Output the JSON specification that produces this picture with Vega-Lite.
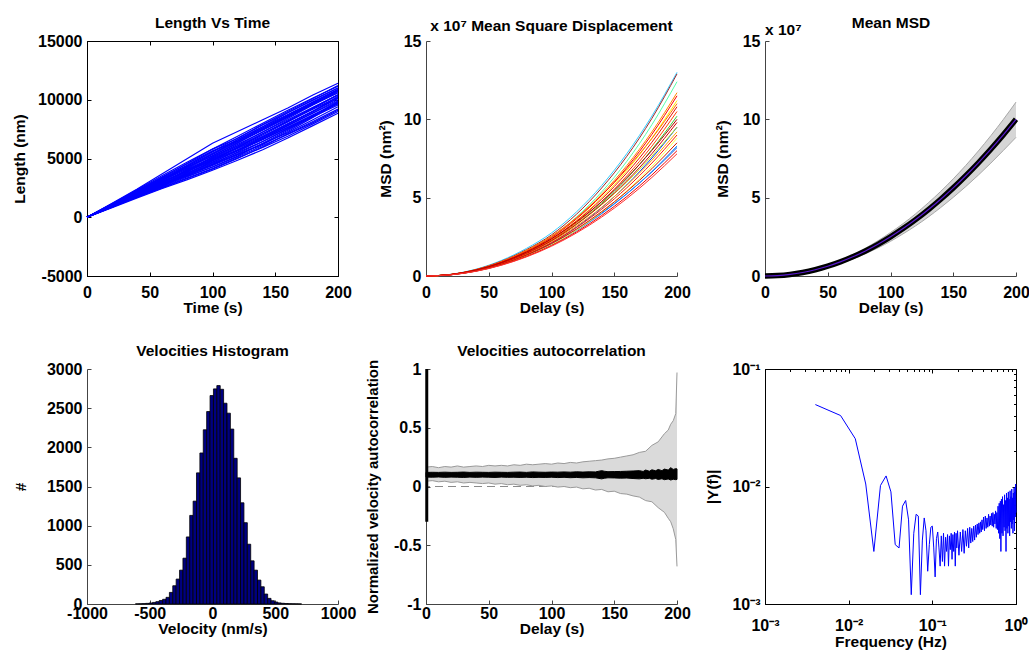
{
"$schema": "https://vega.github.io/schema/vega-lite/v6.json",
"padding": {"left": 12, "top": 15, "right": 0, "bottom": 0},
"config": {
  "font": "Liberation Sans",
  "view": {"stroke": null},
  "axis": {"grid": false, "tickSize": -4, "labelFlush": false, "labelOverlap": false, "labelBound": false,
    "domainColor": "#444", "tickColor": "#444", "domainWidth": 1, "tickWidth": 1,
    "labelFont": "Liberation Sans", "labelFontSize": 16, "labelFontWeight": "bold", "labelColor": "#000",
    "titleFont": "Liberation Sans", "titleFontSize": 15.5, "titleFontWeight": "bold", "titleColor": "#000",
    "labelPadding": 9, "titlePadding": 10},
  "title": {"font": "Liberation Sans", "fontSize": 15.5, "fontWeight": "bold", "color": "#000", "offset": 2},
  "text": {"font": "Liberation Sans"}
},
"columns": 3,
"bounds": "flush",
"spacing": {"row": 93, "column": 88},
"concat": [
{
  "width": 251, "height": 235,
  "title": {"text": "Length Vs Time", "offset": 1.5},
  "view": {"stroke": "black", "strokeWidth": 1},
  "data": {"values": [
{"id":1,"t":0,"L":0},{"id":1,"t":20,"L":1200},{"id":1,"t":40,"L":2400},{"id":1,"t":60,"L":3700},{"id":1,"t":80,"L":5000},{"id":1,"t":100,"L":6300},{"id":1,"t":120,"L":7300},{"id":1,"t":140,"L":8300},{"id":1,"t":160,"L":9300},{"id":1,"t":180,"L":10400},{"id":1,"t":200,"L":11400},
{"id":2,"t":0,"L":0},{"id":2,"t":20,"L":1100},{"id":2,"t":40,"L":2200},{"id":2,"t":60,"L":3400},{"id":2,"t":80,"L":4600},{"id":2,"t":100,"L":5800},{"id":2,"t":120,"L":6700},{"id":2,"t":140,"L":7900},{"id":2,"t":160,"L":9000},{"id":2,"t":180,"L":10100},{"id":2,"t":200,"L":11200},
{"id":3,"t":0,"L":0},{"id":3,"t":20,"L":1050},{"id":3,"t":40,"L":2250},{"id":3,"t":60,"L":3300},{"id":3,"t":80,"L":4200},{"id":3,"t":100,"L":5400},{"id":3,"t":120,"L":6600},{"id":3,"t":140,"L":7700},{"id":3,"t":160,"L":8900},{"id":3,"t":180,"L":10000},{"id":3,"t":200,"L":11000},
{"id":4,"t":0,"L":0},{"id":4,"t":20,"L":950},{"id":4,"t":40,"L":2000},{"id":4,"t":60,"L":3150},{"id":4,"t":80,"L":4300},{"id":4,"t":100,"L":5200},{"id":4,"t":120,"L":6300},{"id":4,"t":140,"L":7500},{"id":4,"t":160,"L":8600},{"id":4,"t":180,"L":9700},{"id":4,"t":200,"L":10800},
{"id":5,"t":0,"L":0},{"id":5,"t":20,"L":1080},{"id":5,"t":40,"L":2100},{"id":5,"t":60,"L":3000},{"id":5,"t":80,"L":3900},{"id":5,"t":100,"L":5100},{"id":5,"t":120,"L":6200},{"id":5,"t":140,"L":7250},{"id":5,"t":160,"L":8400},{"id":5,"t":180,"L":9550},{"id":5,"t":200,"L":10600},
{"id":6,"t":0,"L":0},{"id":6,"t":20,"L":900},{"id":6,"t":40,"L":1800},{"id":6,"t":60,"L":2900},{"id":6,"t":80,"L":4000},{"id":6,"t":100,"L":5150},{"id":6,"t":120,"L":6100},{"id":6,"t":140,"L":7250},{"id":6,"t":160,"L":8300},{"id":6,"t":180,"L":9350},{"id":6,"t":200,"L":10400},
{"id":7,"t":0,"L":0},{"id":7,"t":20,"L":1020},{"id":7,"t":40,"L":1950},{"id":7,"t":60,"L":2850},{"id":7,"t":80,"L":3700},{"id":7,"t":100,"L":4800},{"id":7,"t":120,"L":5950},{"id":7,"t":140,"L":7100},{"id":7,"t":160,"L":8150},{"id":7,"t":180,"L":9200},{"id":7,"t":200,"L":10200},
{"id":8,"t":0,"L":0},{"id":8,"t":20,"L":940},{"id":8,"t":40,"L":1850},{"id":8,"t":60,"L":2700},{"id":8,"t":80,"L":3600},{"id":8,"t":100,"L":4500},{"id":8,"t":120,"L":5550},{"id":8,"t":140,"L":6700},{"id":8,"t":160,"L":7800},{"id":8,"t":180,"L":8900},{"id":8,"t":200,"L":10000},
{"id":9,"t":0,"L":0},{"id":9,"t":20,"L":1060},{"id":9,"t":40,"L":2100},{"id":9,"t":60,"L":3050},{"id":9,"t":80,"L":3950},{"id":9,"t":100,"L":4850},{"id":9,"t":120,"L":5750},{"id":9,"t":140,"L":6700},{"id":9,"t":160,"L":7800},{"id":9,"t":180,"L":8850},{"id":9,"t":200,"L":9900},
{"id":10,"t":0,"L":0},{"id":10,"t":20,"L":880},{"id":10,"t":40,"L":1750},{"id":10,"t":60,"L":2600},{"id":10,"t":80,"L":3450},{"id":10,"t":100,"L":4300},{"id":10,"t":120,"L":5200},{"id":10,"t":140,"L":6300},{"id":10,"t":160,"L":7400},{"id":10,"t":180,"L":8600},{"id":10,"t":200,"L":9800},
{"id":11,"t":0,"L":0},{"id":11,"t":20,"L":920},{"id":11,"t":40,"L":1800},{"id":11,"t":60,"L":2650},{"id":11,"t":80,"L":3550},{"id":11,"t":100,"L":4400},{"id":11,"t":120,"L":5300},{"id":11,"t":140,"L":6200},{"id":11,"t":160,"L":7300},{"id":11,"t":180,"L":8500},{"id":11,"t":200,"L":9700},
{"id":12,"t":0,"L":0},{"id":12,"t":20,"L":1030},{"id":12,"t":40,"L":1950},{"id":12,"t":60,"L":2800},{"id":12,"t":80,"L":3650},{"id":12,"t":100,"L":4500},{"id":12,"t":120,"L":5350},{"id":12,"t":140,"L":6250},{"id":12,"t":160,"L":7200},{"id":12,"t":180,"L":8300},{"id":12,"t":200,"L":9400},
{"id":13,"t":0,"L":0},{"id":13,"t":20,"L":850},{"id":13,"t":40,"L":1700},{"id":13,"t":60,"L":2500},{"id":13,"t":80,"L":3300},{"id":13,"t":100,"L":4100},{"id":13,"t":120,"L":5000},{"id":13,"t":140,"L":6000},{"id":13,"t":160,"L":7100},{"id":13,"t":180,"L":8150},{"id":13,"t":200,"L":9200},
{"id":14,"t":0,"L":0},{"id":14,"t":20,"L":900},{"id":14,"t":40,"L":1750},{"id":14,"t":60,"L":2550},{"id":14,"t":80,"L":3350},{"id":14,"t":100,"L":4150},{"id":14,"t":120,"L":5050},{"id":14,"t":140,"L":5950},{"id":14,"t":160,"L":6900},{"id":14,"t":180,"L":7950},{"id":14,"t":200,"L":9000},
{"id":15,"t":0,"L":0},{"id":15,"t":20,"L":820},{"id":15,"t":40,"L":1650},{"id":15,"t":60,"L":2450},{"id":15,"t":80,"L":3200},{"id":15,"t":100,"L":4000},{"id":15,"t":120,"L":4850},{"id":15,"t":140,"L":5750},{"id":15,"t":160,"L":6750},{"id":15,"t":180,"L":7800},{"id":15,"t":200,"L":8850},
{"id":16,"t":0,"L":0},{"id":16,"t":20,"L":1120},{"id":16,"t":40,"L":2250},{"id":16,"t":60,"L":3350},{"id":16,"t":80,"L":4450},{"id":16,"t":100,"L":5600},{"id":16,"t":120,"L":6750},{"id":16,"t":140,"L":7850},{"id":16,"t":160,"L":8900},{"id":16,"t":180,"L":9950},{"id":16,"t":200,"L":11000},
{"id":17,"t":0,"L":0},{"id":17,"t":20,"L":1000},{"id":17,"t":40,"L":2050},{"id":17,"t":60,"L":3100},{"id":17,"t":80,"L":4150},{"id":17,"t":100,"L":5250},{"id":17,"t":120,"L":6350},{"id":17,"t":140,"L":7400},{"id":17,"t":160,"L":8500},{"id":17,"t":180,"L":9600},{"id":17,"t":200,"L":10700},
{"id":18,"t":0,"L":0},{"id":18,"t":20,"L":980},{"id":18,"t":40,"L":1900},{"id":18,"t":60,"L":2800},{"id":18,"t":80,"L":3800},{"id":18,"t":100,"L":4700},{"id":18,"t":120,"L":5650},{"id":18,"t":140,"L":6600},{"id":18,"t":160,"L":7650},{"id":18,"t":180,"L":8700},{"id":18,"t":200,"L":9650},
{"id":19,"t":0,"L":0},{"id":19,"t":20,"L":1150},{"id":19,"t":40,"L":2300},{"id":19,"t":60,"L":3450},{"id":19,"t":80,"L":4550},{"id":19,"t":100,"L":5650},{"id":19,"t":120,"L":6500},{"id":19,"t":140,"L":7600},{"id":19,"t":160,"L":8700},{"id":19,"t":180,"L":9800},{"id":19,"t":200,"L":10900},
{"id":20,"t":0,"L":0},{"id":20,"t":20,"L":860},{"id":20,"t":40,"L":1800},{"id":20,"t":60,"L":2750},{"id":20,"t":80,"L":3750},{"id":20,"t":100,"L":4650},{"id":20,"t":120,"L":5700},{"id":20,"t":140,"L":6850},{"id":20,"t":160,"L":7950},{"id":20,"t":180,"L":9000},{"id":20,"t":200,"L":10100},
{"id":21,"t":0,"L":0},{"id":21,"t":20,"L":1000},{"id":21,"t":40,"L":1950},{"id":21,"t":60,"L":2950},{"id":21,"t":80,"L":4050},{"id":21,"t":100,"L":5000},{"id":21,"t":120,"L":5900},{"id":21,"t":140,"L":6900},{"id":21,"t":160,"L":7950},{"id":21,"t":180,"L":9050},{"id":21,"t":200,"L":10150},
{"id":22,"t":0,"L":0},{"id":22,"t":20,"L":930},{"id":22,"t":40,"L":1850},{"id":22,"t":60,"L":2750},{"id":22,"t":80,"L":3500},{"id":22,"t":100,"L":4250},{"id":22,"t":120,"L":5150},{"id":22,"t":140,"L":6100},{"id":22,"t":160,"L":7050},{"id":22,"t":180,"L":8050},{"id":22,"t":200,"L":9100},
{"id":23,"t":0,"L":0},{"id":23,"t":20,"L":1100},{"id":23,"t":40,"L":2150},{"id":23,"t":60,"L":3200},{"id":23,"t":80,"L":4350},{"id":23,"t":100,"L":5450},{"id":23,"t":120,"L":6450},{"id":23,"t":140,"L":7450},{"id":23,"t":160,"L":8550},{"id":23,"t":180,"L":9650},{"id":23,"t":200,"L":10600},
{"id":24,"t":0,"L":0},{"id":24,"t":20,"L":960},{"id":24,"t":40,"L":1900},{"id":24,"t":60,"L":2850},{"id":24,"t":80,"L":3850},{"id":24,"t":100,"L":4900},{"id":24,"t":120,"L":5850},{"id":24,"t":140,"L":6800},{"id":24,"t":160,"L":7900},{"id":24,"t":180,"L":9000},{"id":24,"t":200,"L":10300},
{"id":25,"t":0,"L":0},{"id":25,"t":20,"L":1050},{"id":25,"t":40,"L":2150},{"id":25,"t":60,"L":3250},{"id":25,"t":80,"L":4400},{"id":25,"t":100,"L":5550},{"id":25,"t":120,"L":6600},{"id":25,"t":140,"L":7700},{"id":25,"t":160,"L":8750},{"id":25,"t":180,"L":9800},{"id":25,"t":200,"L":10850},
{"id":26,"t":0,"L":0},{"id":26,"t":20,"L":900},{"id":26,"t":40,"L":1900},{"id":26,"t":60,"L":2950},{"id":26,"t":80,"L":3950},{"id":26,"t":100,"L":4950},{"id":26,"t":120,"L":5950},{"id":26,"t":140,"L":7000},{"id":26,"t":160,"L":8100},{"id":26,"t":180,"L":9250},{"id":26,"t":200,"L":10400},
{"id":27,"t":0,"L":0},{"id":27,"t":20,"L":1000},{"id":27,"t":40,"L":2000},{"id":27,"t":60,"L":3000},{"id":27,"t":80,"L":3950},{"id":27,"t":100,"L":4800},{"id":27,"t":120,"L":5700},{"id":27,"t":140,"L":6650},{"id":27,"t":160,"L":7650},{"id":27,"t":180,"L":8700},{"id":27,"t":200,"L":9750},
{"id":28,"t":0,"L":0},{"id":28,"t":20,"L":1150},{"id":28,"t":40,"L":2350},{"id":28,"t":60,"L":3550},{"id":28,"t":80,"L":4700},{"id":28,"t":100,"L":5800},{"id":28,"t":120,"L":6900},{"id":28,"t":140,"L":8000},{"id":28,"t":160,"L":9100},{"id":28,"t":180,"L":10150},{"id":28,"t":200,"L":11150},
{"id":29,"t":0,"L":0},{"id":29,"t":20,"L":870},{"id":29,"t":40,"L":1750},{"id":29,"t":60,"L":2700},{"id":29,"t":80,"L":3650},{"id":29,"t":100,"L":4600},{"id":29,"t":120,"L":5500},{"id":29,"t":140,"L":6450},{"id":29,"t":160,"L":7500},{"id":29,"t":180,"L":8550},{"id":29,"t":200,"L":9550},
{"id":30,"t":0,"L":0},{"id":30,"t":20,"L":1080},{"id":30,"t":40,"L":2150},{"id":30,"t":60,"L":3150},{"id":30,"t":80,"L":4100},{"id":30,"t":100,"L":5050},{"id":30,"t":120,"L":6050},{"id":30,"t":140,"L":7100},{"id":30,"t":160,"L":8200},{"id":30,"t":180,"L":9300},{"id":30,"t":200,"L":10450},
{"id":31,"t":0,"L":0},{"id":31,"t":20,"L":950},{"id":31,"t":40,"L":1850},{"id":31,"t":60,"L":2700},{"id":31,"t":80,"L":3550},{"id":31,"t":100,"L":4450},{"id":31,"t":120,"L":5400},{"id":31,"t":140,"L":6450},{"id":31,"t":160,"L":7550},{"id":31,"t":180,"L":8650},{"id":31,"t":200,"L":9850},
{"id":32,"t":0,"L":0},{"id":32,"t":20,"L":1010},{"id":32,"t":40,"L":2050},{"id":32,"t":60,"L":3150},{"id":32,"t":80,"L":4250},{"id":32,"t":100,"L":5350},{"id":32,"t":120,"L":6450},{"id":32,"t":140,"L":7600},{"id":32,"t":160,"L":8650},{"id":32,"t":180,"L":9700},{"id":32,"t":200,"L":10750}
  ]},
  "layer": [
    {"mark": {"type": "line", "color": "#0000ff", "strokeWidth": 1.2},
     "encoding": {
       "x": {"field": "t", "type": "quantitative", "title": "Time (s)", "scale": {"domain": [0, 200], "nice": false},
             "axis": {"values": [0, 50, 100, 150, 200], "labelExpr": "datum.value + ''", "domainColor": "black", "tickColor": "black", "labelPadding": 12, "titlePadding": 0}},
       "y": {"field": "L", "type": "quantitative", "title": "Length (nm)", "scale": {"domain": [-5000, 15000], "nice": false, "zero": false},
             "axis": {"values": [-5000, 0, 5000, 10000, 15000], "labelExpr": "datum.value + ''", "domainColor": "black", "tickColor": "black", "titlePadding": 10}},
       "detail": {"field": "id", "type": "nominal"}}},
    {"mark": {"type": "line", "opacity": 0},
     "encoding": {
       "x": {"field": "t", "type": "quantitative", "axis": {"orient": "top", "values": [0, 50, 100, 150, 200], "labels": false, "title": null, "domain": false, "tickColor": "black"}},
       "y": {"field": "L", "type": "quantitative", "axis": {"orient": "right", "values": [-5000, 0, 5000, 10000, 15000], "labels": false, "title": null, "domain": false, "tickColor": "black"}},
       "detail": {"field": "id", "type": "nominal"}}}
  ],
  "resolve": {"axis": {"x": "independent", "y": "independent"}}
},
{
  "width": 251, "height": 235,
  "title": {"text": "x 10⁷ Mean Square Displacement", "offset": -1},
  "data": {"values": [
{"id":11,"t":0,"m":0},{"id":11,"t":20,"m":0.085},{"id":11,"t":40,"m":0.34},{"id":11,"t":60,"m":0.765},{"id":11,"t":80,"m":1.36},{"id":11,"t":100,"m":2.125},{"id":11,"t":120,"m":3.13},{"id":11,"t":140,"m":4.36},{"id":11,"t":160,"m":5.82},{"id":11,"t":180,"m":7.53},{"id":11,"t":200,"m":9.5},
{"id":20,"t":0,"m":0},{"id":20,"t":20,"m":0.082},{"id":20,"t":40,"m":0.328},{"id":20,"t":60,"m":0.738},{"id":20,"t":80,"m":1.312},{"id":20,"t":100,"m":2.05},{"id":20,"t":120,"m":2.95},{"id":20,"t":140,"m":4.02},{"id":20,"t":160,"m":5.25},{"id":20,"t":180,"m":6.64},{"id":20,"t":200,"m":8.2},
{"id":15,"t":0,"m":0},{"id":15,"t":20,"m":0.08},{"id":15,"t":40,"m":0.32},{"id":15,"t":60,"m":0.72},{"id":15,"t":80,"m":1.28},{"id":15,"t":100,"m":2.0},{"id":15,"t":120,"m":2.9},{"id":15,"t":140,"m":3.98},{"id":15,"t":160,"m":5.24},{"id":15,"t":180,"m":6.67},{"id":15,"t":200,"m":8.3},
{"id":9,"t":0,"m":0},{"id":9,"t":20,"m":0.09},{"id":9,"t":40,"m":0.36},{"id":9,"t":60,"m":0.81},{"id":9,"t":80,"m":1.44},{"id":9,"t":100,"m":2.25},{"id":9,"t":120,"m":3.33},{"id":9,"t":140,"m":4.65},{"id":9,"t":160,"m":6.22},{"id":9,"t":180,"m":8.07},{"id":9,"t":200,"m":10.2},
{"id":21,"t":0,"m":0},{"id":21,"t":20,"m":0.092},{"id":21,"t":40,"m":0.368},{"id":21,"t":60,"m":0.828},{"id":21,"t":80,"m":1.472},{"id":21,"t":100,"m":2.3},{"id":21,"t":120,"m":3.33},{"id":21,"t":140,"m":4.57},{"id":21,"t":160,"m":6.0},{"id":21,"t":180,"m":7.65},{"id":21,"t":200,"m":9.5},
{"id":3,"t":0,"m":0},{"id":3,"t":20,"m":0.1},{"id":3,"t":40,"m":0.4},{"id":3,"t":60,"m":0.9},{"id":3,"t":80,"m":1.6},{"id":3,"t":100,"m":2.5},{"id":3,"t":120,"m":3.77},{"id":3,"t":140,"m":5.37},{"id":3,"t":160,"m":7.32},{"id":3,"t":180,"m":9.66},{"id":3,"t":200,"m":12.4},
{"id":13,"t":0,"m":0},{"id":13,"t":20,"m":0.08},{"id":13,"t":40,"m":0.32},{"id":13,"t":60,"m":0.72},{"id":13,"t":80,"m":1.28},{"id":13,"t":100,"m":2.0},{"id":13,"t":120,"m":2.94},{"id":13,"t":140,"m":4.08},{"id":13,"t":160,"m":5.43},{"id":13,"t":180,"m":7.0},{"id":13,"t":200,"m":8.8},
{"id":6,"t":0,"m":0},{"id":6,"t":20,"m":0.095},{"id":6,"t":40,"m":0.38},{"id":6,"t":60,"m":0.855},{"id":6,"t":80,"m":1.52},{"id":6,"t":100,"m":2.375},{"id":6,"t":120,"m":3.54},{"id":6,"t":140,"m":4.99},{"id":6,"t":160,"m":6.73},{"id":6,"t":180,"m":8.8},{"id":6,"t":200,"m":11.2},
{"id":1,"t":0,"m":0},{"id":1,"t":20,"m":0.11},{"id":1,"t":40,"m":0.44},{"id":1,"t":60,"m":0.99},{"id":1,"t":80,"m":1.76},{"id":1,"t":100,"m":2.75},{"id":1,"t":120,"m":4.1},{"id":1,"t":140,"m":5.78},{"id":1,"t":160,"m":7.81},{"id":1,"t":180,"m":10.21},{"id":1,"t":200,"m":13.0},
{"id":2,"t":0,"m":0},{"id":2,"t":20,"m":0.105},{"id":2,"t":40,"m":0.42},{"id":2,"t":60,"m":0.945},{"id":2,"t":80,"m":1.68},{"id":2,"t":100,"m":2.625},{"id":2,"t":120,"m":3.95},{"id":2,"t":140,"m":5.62},{"id":2,"t":160,"m":7.64},{"id":2,"t":180,"m":10.06},{"id":2,"t":200,"m":12.9},
{"id":4,"t":0,"m":0},{"id":4,"t":20,"m":0.1},{"id":4,"t":40,"m":0.4},{"id":4,"t":60,"m":0.9},{"id":4,"t":80,"m":1.6},{"id":4,"t":100,"m":2.5},{"id":4,"t":120,"m":3.72},{"id":4,"t":140,"m":5.23},{"id":4,"t":160,"m":7.05},{"id":4,"t":180,"m":9.2},{"id":4,"t":200,"m":11.7},
{"id":12,"t":0,"m":0},{"id":12,"t":20,"m":0.088},{"id":12,"t":40,"m":0.352},{"id":12,"t":60,"m":0.792},{"id":12,"t":80,"m":1.408},{"id":12,"t":100,"m":2.2},{"id":12,"t":120,"m":3.2},{"id":12,"t":140,"m":4.39},{"id":12,"t":160,"m":5.79},{"id":12,"t":180,"m":7.39},{"id":12,"t":200,"m":9.2},
{"id":18,"t":0,"m":0},{"id":18,"t":20,"m":0.102},{"id":18,"t":40,"m":0.408},{"id":18,"t":60,"m":0.918},{"id":18,"t":80,"m":1.632},{"id":18,"t":100,"m":2.55},{"id":18,"t":120,"m":3.73},{"id":18,"t":140,"m":5.15},{"id":18,"t":160,"m":6.84},{"id":18,"t":180,"m":8.78},{"id":18,"t":200,"m":11.0},
{"id":8,"t":0,"m":0},{"id":8,"t":20,"m":0.092},{"id":8,"t":40,"m":0.368},{"id":8,"t":60,"m":0.828},{"id":8,"t":80,"m":1.472},{"id":8,"t":100,"m":2.3},{"id":8,"t":120,"m":3.41},{"id":8,"t":140,"m":4.76},{"id":8,"t":160,"m":6.39},{"id":8,"t":180,"m":8.29},{"id":8,"t":200,"m":10.5},
{"id":5,"t":0,"m":0},{"id":5,"t":20,"m":0.098},{"id":5,"t":40,"m":0.392},{"id":5,"t":60,"m":0.882},{"id":5,"t":80,"m":1.568},{"id":5,"t":100,"m":2.45},{"id":5,"t":120,"m":3.65},{"id":5,"t":140,"m":5.14},{"id":5,"t":160,"m":6.92},{"id":5,"t":180,"m":9.04},{"id":5,"t":200,"m":11.5},
{"id":7,"t":0,"m":0},{"id":7,"t":20,"m":0.095},{"id":7,"t":40,"m":0.38},{"id":7,"t":60,"m":0.855},{"id":7,"t":80,"m":1.52},{"id":7,"t":100,"m":2.375},{"id":7,"t":120,"m":3.51},{"id":7,"t":140,"m":4.91},{"id":7,"t":160,"m":6.58},{"id":7,"t":180,"m":8.54},{"id":7,"t":200,"m":10.8},
{"id":10,"t":0,"m":0},{"id":10,"t":20,"m":0.09},{"id":10,"t":40,"m":0.36},{"id":10,"t":60,"m":0.81},{"id":10,"t":80,"m":1.44},{"id":10,"t":100,"m":2.25},{"id":10,"t":120,"m":3.3},{"id":10,"t":140,"m":4.57},{"id":10,"t":160,"m":6.07},{"id":10,"t":180,"m":7.81},{"id":10,"t":200,"m":9.8},
{"id":14,"t":0,"m":0},{"id":14,"t":20,"m":0.085},{"id":14,"t":40,"m":0.34},{"id":14,"t":60,"m":0.765},{"id":14,"t":80,"m":1.36},{"id":14,"t":100,"m":2.125},{"id":14,"t":120,"m":3.1},{"id":14,"t":140,"m":4.26},{"id":14,"t":160,"m":5.63},{"id":14,"t":180,"m":7.21},{"id":14,"t":200,"m":9.0},
{"id":16,"t":0,"m":0},{"id":16,"t":20,"m":0.078},{"id":16,"t":40,"m":0.312},{"id":16,"t":60,"m":0.702},{"id":16,"t":80,"m":1.248},{"id":16,"t":100,"m":1.95},{"id":16,"t":120,"m":2.82},{"id":16,"t":140,"m":3.86},{"id":16,"t":160,"m":5.07},{"id":16,"t":180,"m":6.45},{"id":16,"t":200,"m":8.0},
{"id":17,"t":0,"m":0},{"id":17,"t":20,"m":0.095},{"id":17,"t":40,"m":0.38},{"id":17,"t":60,"m":0.855},{"id":17,"t":80,"m":1.52},{"id":17,"t":100,"m":2.375},{"id":17,"t":120,"m":3.46},{"id":17,"t":140,"m":4.75},{"id":17,"t":160,"m":6.27},{"id":17,"t":180,"m":8.02},{"id":17,"t":200,"m":10.0},
{"id":19,"t":0,"m":0},{"id":19,"t":20,"m":0.083},{"id":19,"t":40,"m":0.332},{"id":19,"t":60,"m":0.747},{"id":19,"t":80,"m":1.328},{"id":19,"t":100,"m":2.075},{"id":19,"t":120,"m":3.0},{"id":19,"t":140,"m":4.11},{"id":19,"t":160,"m":5.39},{"id":19,"t":180,"m":6.85},{"id":19,"t":200,"m":8.5},
{"id":22,"t":0,"m":0},{"id":22,"t":20,"m":0.076},{"id":22,"t":40,"m":0.304},{"id":22,"t":60,"m":0.684},{"id":22,"t":80,"m":1.216},{"id":22,"t":100,"m":1.9},{"id":22,"t":120,"m":2.75},{"id":22,"t":140,"m":3.76},{"id":22,"t":160,"m":4.94},{"id":22,"t":180,"m":6.29},{"id":22,"t":200,"m":7.8}
  ]},
  "mark": {"type": "line", "strokeWidth": 1, "interpolate": "monotone"},
  "encoding": {
    "x": {"field": "t", "type": "quantitative", "title": "Delay (s)", "scale": {"domain": [0, 200], "nice": false},
          "axis": {"values": [0, 50, 100, 150, 200], "labelExpr": "datum.value + ''", "labelPadding": 12, "titlePadding": 0}},
    "y": {"field": "m", "type": "quantitative", "title": "MSD (nm²)", "scale": {"domain": [0, 15], "nice": false},
          "axis": {"values": [0, 5, 10, 15], "labelExpr": "datum.value + ''", "titlePadding": 10}},
    "color": {"field": "id", "type": "nominal", "legend": null,
      "scale": {"domain": [1,2,3,4,5,6,7,8,9,10,11,12,13,14,15,16,17,18,19,20,21,22],
        "range": ["#33ccff","#a0282a","#55ffaa","#ff8c00","#ff0000","#ffee00","#e81000","#ff4500","#33cc33","#d40000","#0033ff","#ffa500","#ffff40","#ff2000","#1e90ff","#f00000","#b00000","#ff6a00","#cc1a00","#0050e0","#b4e61e","#ff3030"]}}
  }
},
{
  "width": 251, "height": 235,
  "data": {"values": [
{"t":0,"m":0,"hi":0,"lo":0},{"t":10,"m":0.025,"hi":0.028,"lo":0.022},{"t":20,"m":0.1,"hi":0.111,"lo":0.089},{"t":30,"m":0.225,"hi":0.25,"lo":0.199},{"t":40,"m":0.4,"hi":0.444,"lo":0.354},{"t":50,"m":0.625,"hi":0.694,"lo":0.553},{"t":60,"m":0.9,"hi":1.0,"lo":0.797},{"t":70,"m":1.225,"hi":1.36,"lo":1.084},{"t":80,"m":1.6,"hi":1.776,"lo":1.416},{"t":90,"m":2.025,"hi":2.248,"lo":1.792},{"t":100,"m":2.5,"hi":2.775,"lo":2.213},{"t":110,"m":3.025,"hi":3.34,"lo":2.69},{"t":120,"m":3.6,"hi":3.97,"lo":3.2},{"t":130,"m":4.225,"hi":4.66,"lo":3.76},{"t":140,"m":4.9,"hi":5.4,"lo":4.37},{"t":150,"m":5.625,"hi":6.2,"lo":5.02},{"t":160,"m":6.4,"hi":7.06,"lo":5.71},{"t":170,"m":7.225,"hi":7.98,"lo":6.44},{"t":180,"m":8.1,"hi":8.96,"lo":7.21},{"t":190,"m":9.025,"hi":10.0,"lo":8.02},{"t":200,"m":10.0,"hi":11.1,"lo":8.85}
  ]},
  "layer": [
    {"mark": {"type": "area", "color": "#d6d6d6", "interpolate": "monotone"},
     "encoding": {
       "x": {"field": "t", "type": "quantitative", "title": "Delay (s)", "scale": {"domain": [0, 200], "nice": false},
             "axis": {"values": [0, 50, 100, 150, 200], "labelExpr": "datum.value + ''", "labelPadding": 12, "titlePadding": 0}},
       "y": {"field": "hi", "type": "quantitative", "title": "MSD (nm²)", "scale": {"domain": [0, 15], "nice": false},
             "axis": {"values": [0, 5, 10, 15], "labelExpr": "datum.value + ''", "titlePadding": 12}},
       "y2": {"field": "lo"}}},
    {"mark": {"type": "line", "color": "#a8a8a8", "strokeWidth": 1, "interpolate": "monotone"},
     "encoding": {"x": {"field": "t", "type": "quantitative", "axis": null}, "y": {"field": "hi", "type": "quantitative", "title": "MSD (nm²)"}}},
    {"mark": {"type": "line", "color": "#a8a8a8", "strokeWidth": 1, "interpolate": "monotone"},
     "encoding": {"x": {"field": "t", "type": "quantitative", "axis": null}, "y": {"field": "lo", "type": "quantitative", "title": "MSD (nm²)"}}},
    {"mark": {"type": "line", "color": "#000000", "strokeWidth": 5.5, "interpolate": "monotone"},
     "encoding": {"x": {"field": "t", "type": "quantitative", "axis": null}, "y": {"field": "m", "type": "quantitative", "title": "MSD (nm²)"}}},
    {"mark": {"type": "line", "color": "#5a1ad0", "strokeWidth": 1.2, "interpolate": "monotone"},
     "encoding": {"x": {"field": "t", "type": "quantitative", "axis": null}, "y": {"field": "m", "type": "quantitative", "title": "MSD (nm²)"}}},
    {"mark": {"type": "line", "opacity": 0},
     "encoding": {"x": {"field": "t", "type": "quantitative", "axis": {"orient": "top", "labels": false, "ticks": false, "domain": false, "title": "Mean MSD", "titlePadding": 11, "titleFontSize": 15.5}}, "y": {"field": "m", "type": "quantitative", "title": "MSD (nm²)"}}},
    {"data": {"values": [{"label": "x 10⁷"}]},
     "mark": {"type": "text", "align": "left", "baseline": "middle", "dy": -11, "fontSize": 15.5, "fontWeight": "bold", "color": "#000"},
     "encoding": {"text": {"field": "label"}, "x": {"datum": 0, "type": "quantitative", "axis": null}, "y": {"datum": 15, "type": "quantitative"}}}
  ],
  "resolve": {"axis": {"x": "independent"}}
},
{
  "width": 251, "height": 235,
  "title": {"text": "Velocities Histogram", "offset": 2},
  "data": {"values": [
{"lo":-613.5,"hi":-586.5,"n":2},{"lo":-586.5,"hi":-559.5,"n":3},{"lo":-559.5,"hi":-532.5,"n":5},{"lo":-532.5,"hi":-505.5,"n":8},{"lo":-505.5,"hi":-478.5,"n":13},{"lo":-478.5,"hi":-451.5,"n":20},{"lo":-451.5,"hi":-424.5,"n":30},{"lo":-424.5,"hi":-397.5,"n":45},{"lo":-397.5,"hi":-370.5,"n":60},{"lo":-370.5,"hi":-343.5,"n":85},{"lo":-343.5,"hi":-316.5,"n":148},{"lo":-316.5,"hi":-289.5,"n":233},{"lo":-289.5,"hi":-262.5,"n":318},{"lo":-262.5,"hi":-235.5,"n":432},{"lo":-235.5,"hi":-208.5,"n":585},{"lo":-208.5,"hi":-181.5,"n":856},{"lo":-181.5,"hi":-154.5,"n":1131},{"lo":-154.5,"hi":-127.5,"n":1313},{"lo":-127.5,"hi":-100.5,"n":1674},{"lo":-100.5,"hi":-73.5,"n":1928},{"lo":-73.5,"hi":-46.5,"n":2224},{"lo":-46.5,"hi":-19.5,"n":2457},{"lo":-19.5,"hi":7.5,"n":2661},{"lo":7.5,"hi":34.5,"n":2746},{"lo":34.5,"hi":61.5,"n":2788},{"lo":61.5,"hi":88.5,"n":2741},{"lo":88.5,"hi":115.5,"n":2563},{"lo":115.5,"hi":142.5,"n":2436},{"lo":142.5,"hi":169.5,"n":2233},{"lo":169.5,"hi":196.5,"n":1860},{"lo":196.5,"hi":223.5,"n":1610},{"lo":223.5,"hi":250.5,"n":1292},{"lo":250.5,"hi":277.5,"n":1038},{"lo":277.5,"hi":304.5,"n":763},{"lo":304.5,"hi":331.5,"n":551},{"lo":331.5,"hi":358.5,"n":432},{"lo":358.5,"hi":385.5,"n":305},{"lo":385.5,"hi":412.5,"n":220},{"lo":412.5,"hi":439.5,"n":127},{"lo":439.5,"hi":466.5,"n":72},{"lo":466.5,"hi":493.5,"n":42},{"lo":493.5,"hi":520.5,"n":25},{"lo":520.5,"hi":547.5,"n":14},{"lo":547.5,"hi":574.5,"n":9},{"lo":574.5,"hi":601.5,"n":6},{"lo":601.5,"hi":628.5,"n":4},{"lo":628.5,"hi":655.5,"n":3},{"lo":655.5,"hi":682.5,"n":2},{"lo":682.5,"hi":709.5,"n":1}
  ]},
  "mark": {"type": "bar", "fill": "#000080", "stroke": "#000000", "strokeWidth": 0.8},
  "encoding": {
    "x": {"field": "lo", "type": "quantitative", "title": "Velocity (nm/s)", "scale": {"domain": [-1000, 1000], "nice": false, "zero": false},
          "axis": {"values": [-1000, -500, 0, 500, 1000], "labelExpr": "datum.value + ''", "labelPadding": 5, "titlePadding": 0}},
    "x2": {"field": "hi"},
    "y": {"field": "n", "type": "quantitative", "title": "#", "scale": {"domain": [0, 3000], "nice": false},
          "axis": {"values": [0, 500, 1000, 1500, 2000, 2500, 3000], "labelExpr": "datum.value + ''", "titlePadding": 18}},
    "y2": {"datum": 0}
  }
},
{
  "width": 251, "height": 235,
  "title": {"text": "Velocities autocorrelation", "offset": 0},
  "layer": [
    {"data": {"values": [{"z": 0}]},
     "mark": {"type": "rule", "color": "#8a8a8a", "strokeWidth": 1.2, "strokeDash": [8, 5]},
     "encoding": {"y": {"datum": 0, "type": "quantitative", "scale": {"domain": [-1, 1], "nice": false}}}},
    {"data": {"values": [
{"t":0,"up":0.165,"lo":0.045},{"t":5,"up":0.17,"lo":0.05},{"t":10,"up":0.16,"lo":0.04},{"t":15,"up":0.17,"lo":0.045},{"t":20,"up":0.165,"lo":0.035},{"t":25,"up":0.175,"lo":0.04},{"t":30,"up":0.165,"lo":0.03},{"t":35,"up":0.17,"lo":0.035},{"t":40,"up":0.175,"lo":0.03},{"t":45,"up":0.17,"lo":0.025},{"t":50,"up":0.18,"lo":0.03},{"t":55,"up":0.175,"lo":0.02},{"t":60,"up":0.18,"lo":0.025},{"t":65,"up":0.175,"lo":0.015},{"t":70,"up":0.185,"lo":0.02},{"t":75,"up":0.18,"lo":0.01},{"t":80,"up":0.19,"lo":0.015},{"t":85,"up":0.185,"lo":0.005},{"t":90,"up":0.19,"lo":0.01},{"t":95,"up":0.195,"lo":0.0},{"t":100,"up":0.19,"lo":0.005},{"t":105,"up":0.2,"lo":-0.005},{"t":110,"up":0.195,"lo":0.0},{"t":115,"up":0.205,"lo":-0.01},{"t":120,"up":0.2,"lo":-0.005},{"t":125,"up":0.21,"lo":-0.02},{"t":130,"up":0.215,"lo":-0.015},{"t":135,"up":0.22,"lo":-0.03},{"t":140,"up":0.225,"lo":-0.025},{"t":145,"up":0.235,"lo":-0.045},{"t":150,"up":0.24,"lo":-0.04},{"t":155,"up":0.25,"lo":-0.06},{"t":160,"up":0.26,"lo":-0.065},{"t":165,"up":0.27,"lo":-0.08},{"t":170,"up":0.29,"lo":-0.09},{"t":175,"up":0.3,"lo":-0.12},{"t":180,"up":0.35,"lo":-0.13},{"t":185,"up":0.38,"lo":-0.18},{"t":190,"up":0.45,"lo":-0.22},{"t":193,"up":0.48,"lo":-0.27},{"t":195,"up":0.53,"lo":-0.3},{"t":197,"up":0.56,"lo":-0.36},{"t":199,"up":0.62,"lo":-0.45},{"t":200,"up":0.97,"lo":-0.68}
     ]},
     "layer": [
       {"mark": {"type": "area", "color": "#dadada"},
        "encoding": {
          "x": {"field": "t", "type": "quantitative", "title": "Delay (s)", "scale": {"domain": [0, 200], "nice": false},
                "axis": {"values": [0, 50, 100, 150, 200], "labelExpr": "datum.value + ''", "labelPadding": 5, "titlePadding": 0}},
          "y": {"field": "up", "type": "quantitative", "title": "Normalized velocity autocorrelation", "scale": {"domain": [-1, 1], "nice": false},
                "axis": {"values": [-1, -0.5, 0, 0.5, 1], "labelExpr": "datum.value + ''", "titlePadding": 13, "titleFontSize": 15}},
          "y2": {"field": "lo"}}},
       {"mark": {"type": "line", "color": "#9a9a9a", "strokeWidth": 1},
        "encoding": {"x": {"field": "t", "type": "quantitative", "title": "Delay (s)"}, "y": {"field": "up", "type": "quantitative", "title": "Normalized velocity autocorrelation"}}},
       {"mark": {"type": "line", "color": "#9a9a9a", "strokeWidth": 1},
        "encoding": {"x": {"field": "t", "type": "quantitative", "title": "Delay (s)"}, "y": {"field": "lo", "type": "quantitative", "title": "Normalized velocity autocorrelation"}}}
     ]},
    {"data": {"values": [
{"t":0,"blo":0.08,"bhi":0.12},{"t":5,"blo":0.079,"bhi":0.121},{"t":10,"blo":0.081,"bhi":0.12},{"t":15,"blo":0.078,"bhi":0.122},{"t":20,"blo":0.08,"bhi":0.12},{"t":25,"blo":0.079,"bhi":0.121},{"t":30,"blo":0.077,"bhi":0.123},{"t":35,"blo":0.08,"bhi":0.12},{"t":40,"blo":0.078,"bhi":0.122},{"t":45,"blo":0.08,"bhi":0.121},{"t":50,"blo":0.079,"bhi":0.12},{"t":55,"blo":0.077,"bhi":0.122},{"t":60,"blo":0.08,"bhi":0.121},{"t":65,"blo":0.078,"bhi":0.12},{"t":70,"blo":0.079,"bhi":0.122},{"t":75,"blo":0.077,"bhi":0.123},{"t":80,"blo":0.079,"bhi":0.12},{"t":85,"blo":0.076,"bhi":0.124},{"t":90,"blo":0.078,"bhi":0.122},{"t":95,"blo":0.077,"bhi":0.121},{"t":100,"blo":0.079,"bhi":0.123},{"t":105,"blo":0.076,"bhi":0.122},{"t":110,"blo":0.078,"bhi":0.124},{"t":115,"blo":0.075,"bhi":0.122},{"t":120,"blo":0.077,"bhi":0.125},{"t":125,"blo":0.074,"bhi":0.123},{"t":130,"blo":0.076,"bhi":0.125},{"t":135,"blo":0.074,"bhi":0.124},{"t":140,"blo":0.065,"bhi":0.135},{"t":142,"blo":0.07,"bhi":0.13},{"t":145,"blo":0.074,"bhi":0.126},{"t":150,"blo":0.073,"bhi":0.127},{"t":155,"blo":0.071,"bhi":0.128},{"t":160,"blo":0.072,"bhi":0.13},{"t":165,"blo":0.068,"bhi":0.132},{"t":170,"blo":0.065,"bhi":0.135},{"t":173,"blo":0.07,"bhi":0.128},{"t":175,"blo":0.066,"bhi":0.14},{"t":178,"blo":0.07,"bhi":0.13},{"t":180,"blo":0.062,"bhi":0.142},{"t":183,"blo":0.068,"bhi":0.134},{"t":185,"blo":0.06,"bhi":0.145},{"t":188,"blo":0.066,"bhi":0.135},{"t":190,"blo":0.058,"bhi":0.148},{"t":193,"blo":0.064,"bhi":0.14},{"t":195,"blo":0.055,"bhi":0.16},{"t":197,"blo":0.062,"bhi":0.145},{"t":199,"blo":0.058,"bhi":0.152},{"t":200,"blo":0.06,"bhi":0.15}
     ]},
     "mark": {"type": "area", "color": "#000000", "stroke": "#000000", "strokeWidth": 1},
     "encoding": {"x": {"field": "t", "type": "quantitative", "title": "Delay (s)"}, "y": {"field": "bhi", "type": "quantitative", "title": "Normalized velocity autocorrelation"}, "y2": {"field": "blo"}}},
    {"data": {"values": [{"t": 0.6, "r0": -0.3, "r1": 1}]},
     "mark": {"type": "rule", "color": "#000000", "strokeWidth": 3},
     "encoding": {"x": {"field": "t", "type": "quantitative", "title": "Delay (s)"}, "y": {"field": "r0", "type": "quantitative", "title": "Normalized velocity autocorrelation"}, "y2": {"field": "r1"}}}
  ]
},
{
  "width": 251, "height": 235,
  "view": {"stroke": "black", "strokeWidth": 1},
  "data": {"values": [
{"f":0.004,"a":0.0498},{"f":0.008,"a":0.0402},{"f":0.012,"a":0.0255},{"f":0.016,"a":0.0105},{"f":0.02,"a":0.0028},{"f":0.024,"a":0.0102},{"f":0.028,"a":0.0123},{"f":0.032,"a":0.009},{"f":0.036,"a":0.0032},{"f":0.04,"a":0.003},{"f":0.044,"a":0.0068},{"f":0.048,"a":0.0076},{"f":0.052,"a":0.0052},{"f":0.056,"a":0.0012},{"f":0.06,"a":0.004},{"f":0.064,"a":0.0058},{"f":0.068,"a":0.0056},{"f":0.072,"a":0.0012},{"f":0.076,"a":0.0035},{"f":0.08,"a":0.0054},{"f":0.084,"a":0.0042},{"f":0.088,"a":0.0019},{"f":0.092,"a":0.0032},{"f":0.096,"a":0.0045},{"f":0.1,"a":0.0046},{"f":0.104,"a":0.003},{"f":0.108,"a":0.0017},{"f":0.112,"a":0.0036},{"f":0.116,"a":0.0041},{"f":0.12,"a":0.003},{"f":0.124,"a":0.0021},{"f":0.128,"a":0.0038},{"f":0.132,"a":0.0023},{"f":0.136,"a":0.004},{"f":0.14,"a":0.0021},{"f":0.144,"a":0.0037},{"f":0.148,"a":0.0028},{"f":0.152,"a":0.0039},{"f":0.156,"a":0.0021},{"f":0.16,"a":0.0038},{"f":0.164,"a":0.0029},{"f":0.168,"a":0.004},{"f":0.172,"a":0.0024},{"f":0.176,"a":0.0039},{"f":0.18,"a":0.0028},{"f":0.184,"a":0.0041},{"f":0.188,"a":0.0021},{"f":0.192,"a":0.004},{"f":0.196,"a":0.003},{"f":0.2,"a":0.0042},
{"f":0.208,"a":0.0026},{"f":0.216,"a":0.0041},{"f":0.224,"a":0.0028},{"f":0.232,"a":0.0043},{"f":0.24,"a":0.0027},{"f":0.248,"a":0.0042},{"f":0.256,"a":0.0031},{"f":0.264,"a":0.0044},{"f":0.272,"a":0.003},{"f":0.28,"a":0.0045},{"f":0.288,"a":0.0033},{"f":0.296,"a":0.0044},{"f":0.304,"a":0.0034},{"f":0.312,"a":0.0046},{"f":0.32,"a":0.0035},{"f":0.328,"a":0.0047},{"f":0.336,"a":0.0037},{"f":0.344,"a":0.0048},{"f":0.352,"a":0.0039},{"f":0.36,"a":0.0049},{"f":0.368,"a":0.004},{"f":0.376,"a":0.005},{"f":0.384,"a":0.0041},{"f":0.392,"a":0.0052},{"f":0.4,"a":0.0043},
{"f":0.41,"a":0.0055},{"f":0.42,"a":0.0042},{"f":0.43,"a":0.0056},{"f":0.44,"a":0.0044},{"f":0.45,"a":0.0054},{"f":0.46,"a":0.0045},{"f":0.47,"a":0.0058},{"f":0.48,"a":0.0046},{"f":0.49,"a":0.0056},{"f":0.5,"a":0.0047},{"f":0.51,"a":0.0059},{"f":0.52,"a":0.0046},{"f":0.53,"a":0.006},{"f":0.54,"a":0.0045},{"f":0.55,"a":0.0058},{"f":0.56,"a":0.0048},{"f":0.57,"a":0.0062},{"f":0.58,"a":0.0044},{"f":0.59,"a":0.006},{"f":0.6,"a":0.0043},
{"f":0.61,"a":0.0068},{"f":0.62,"a":0.004},{"f":0.63,"a":0.0072},{"f":0.64,"a":0.0036},{"f":0.65,"a":0.0075},{"f":0.66,"a":0.0028},{"f":0.67,"a":0.0078},{"f":0.68,"a":0.004},{"f":0.69,"a":0.0082},{"f":0.7,"a":0.0038},{"f":0.71,"a":0.007},{"f":0.72,"a":0.0045},{"f":0.73,"a":0.0085},{"f":0.74,"a":0.0042},{"f":0.75,"a":0.0076},{"f":0.76,"a":0.0028},{"f":0.77,"a":0.0088},{"f":0.78,"a":0.0044},{"f":0.79,"a":0.008},{"f":0.8,"a":0.004},{"f":0.81,"a":0.009},{"f":0.82,"a":0.0046},{"f":0.83,"a":0.0078},{"f":0.84,"a":0.0038},{"f":0.85,"a":0.0092},{"f":0.86,"a":0.005},{"f":0.87,"a":0.0082},{"f":0.88,"a":0.0044},{"f":0.89,"a":0.0095},{"f":0.9,"a":0.0048},{"f":0.91,"a":0.008},{"f":0.92,"a":0.004},{"f":0.93,"a":0.0088},{"f":0.94,"a":0.0052},{"f":0.95,"a":0.0098},{"f":0.96,"a":0.0042},{"f":0.97,"a":0.009},{"f":0.98,"a":0.0055},{"f":0.99,"a":0.0105},{"f":1.0,"a":0.006}
  ]},
  "layer": [
    {"mark": {"type": "line", "color": "#0000ff", "strokeWidth": 1},
     "encoding": {
       "x": {"field": "f", "type": "quantitative", "title": "Frequency (Hz)", "scale": {"type": "log", "domain": [0.001, 1], "nice": false},
             "axis": {"values": [0.001, 0.01, 0.1, 1], "labelExpr": "datum.value < 0.005 ? '10⁻³' : datum.value < 0.05 ? '10⁻²' : datum.value < 0.5 ? '10⁻¹' : '10⁰'", "domainColor": "black", "tickColor": "black", "labelPadding": 17, "titlePadding": 1}},
       "y": {"field": "a", "type": "quantitative", "title": "|Y(f)|", "scale": {"type": "log", "domain": [0.001, 0.1], "nice": false},
             "axis": {"values": [0.001, 0.01, 0.1], "labelExpr": "datum.value < 0.005 ? '10⁻³' : datum.value < 0.05 ? '10⁻²' : '10⁻¹'", "domainColor": "black", "tickColor": "black", "titlePadding": 11}}}},
    {"mark": {"type": "line", "opacity": 0},
     "encoding": {
       "x": {"field": "f", "type": "quantitative", "axis": {"values": [0.002,0.003,0.004,0.005,0.006,0.007,0.008,0.009,0.02,0.03,0.04,0.05,0.06,0.07,0.08,0.09,0.2,0.3,0.4,0.5,0.6,0.7,0.8,0.9], "labels": false, "title": null, "domain": false, "tickColor": "black", "tickSize": -2.5}},
       "y": {"field": "a", "type": "quantitative", "axis": {"values": [0.002,0.003,0.004,0.005,0.006,0.007,0.008,0.009,0.02,0.03,0.04,0.05,0.06,0.07,0.08,0.09], "labels": false, "title": null, "domain": false, "tickColor": "black", "tickSize": -2.5}}}},
    {"mark": {"type": "line", "opacity": 0},
     "encoding": {
       "x": {"field": "f", "type": "quantitative", "axis": {"orient": "top", "values": [0.001, 0.01, 0.1, 1], "labels": false, "title": null, "domain": false, "tickColor": "black"}},
       "y": {"field": "a", "type": "quantitative", "axis": {"orient": "right", "values": [0.001, 0.01, 0.1], "labels": false, "title": null, "domain": false, "tickColor": "black"}}}},
    {"mark": {"type": "line", "opacity": 0},
     "encoding": {
       "x": {"field": "f", "type": "quantitative", "axis": {"orient": "top", "values": [0.002,0.003,0.004,0.005,0.006,0.007,0.008,0.009,0.02,0.03,0.04,0.05,0.06,0.07,0.08,0.09,0.2,0.3,0.4,0.5,0.6,0.7,0.8,0.9], "labels": false, "title": null, "domain": false, "tickColor": "black", "tickSize": -2.5}},
       "y": {"field": "a", "type": "quantitative", "axis": {"orient": "right", "values": [0.002,0.003,0.004,0.005,0.006,0.007,0.008,0.009,0.02,0.03,0.04,0.05,0.06,0.07,0.08,0.09], "labels": false, "title": null, "domain": false, "tickColor": "black", "tickSize": -2.5}}}}
  ],
  "resolve": {"axis": {"x": "independent", "y": "independent"}}
}
]
}
